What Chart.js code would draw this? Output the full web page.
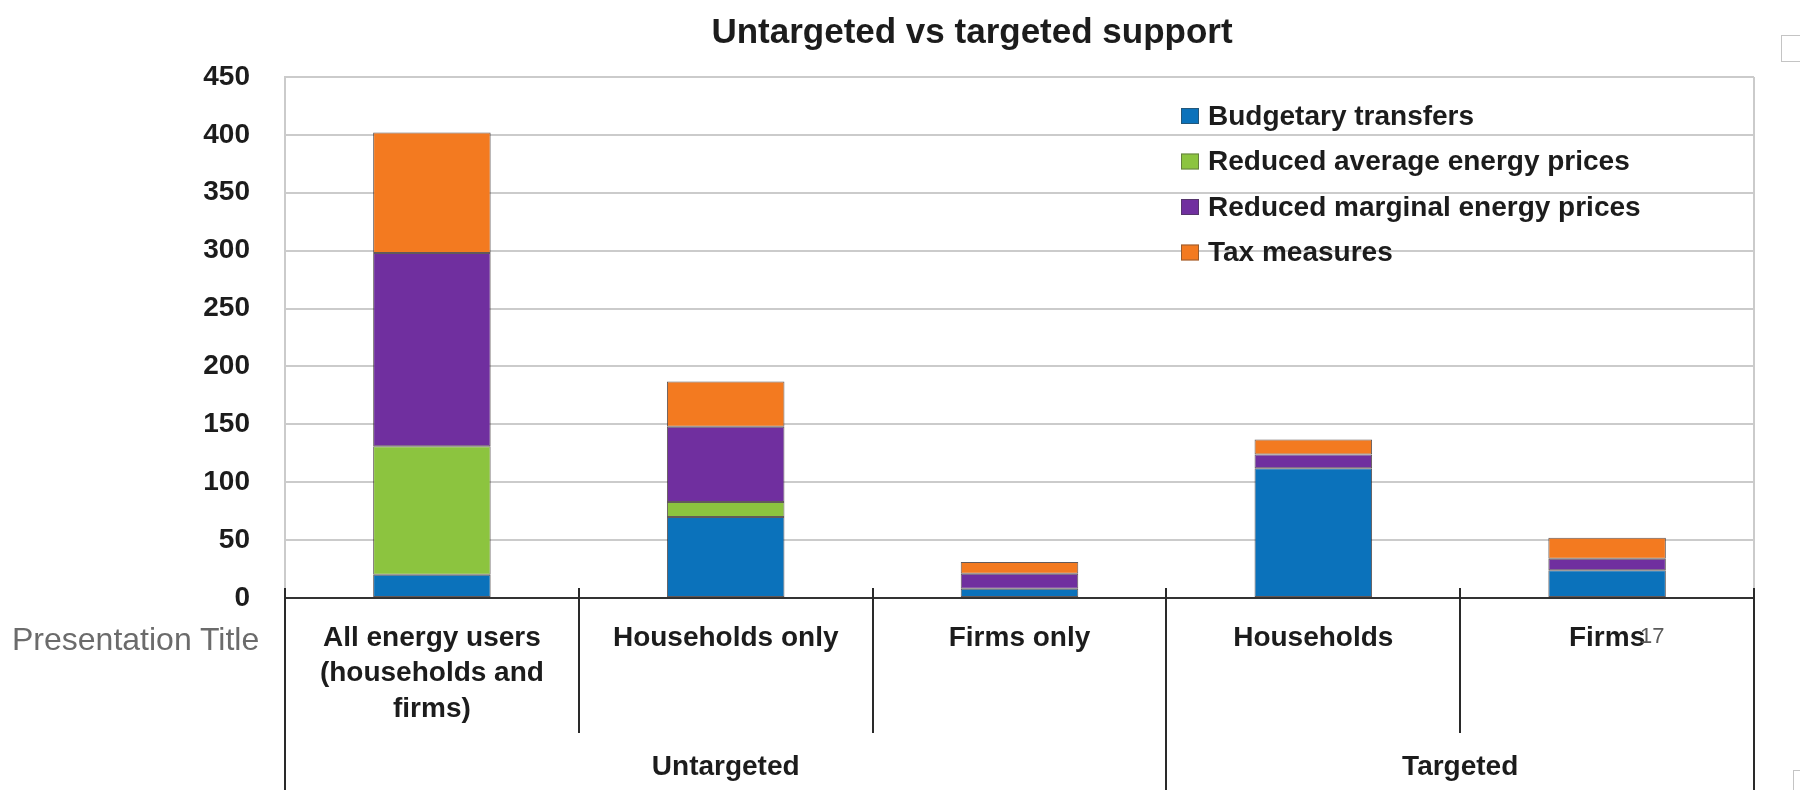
<!DOCTYPE html>
<html>
<head>
<meta charset="utf-8">
<script src="https://cdn.jsdelivr.net/npm/chart.js@4/dist/chart.umd.min.js"></script>
<style>
  html, body { margin: 0; padding: 0; background: #fff; }
  #wrap { position: relative; width: 1800px; height: 790px; }
  #slideTitle {
    position: absolute; left: 12px; top: 621px;
    font: 32px "Liberation Sans", Arial, sans-serif; color: #6b6b6b;
  }
  #pageNo {
    position: absolute; left: 1640px; top: 623px;
    font: 22px "Liberation Sans", Arial, sans-serif; color: #5a5a5a;
  }
  .frag { position: absolute; border: 1px solid #c4c4c4; }
</style>
</head>
<body>
<div id="wrap">
  <canvas id="chart1"></canvas>
  <div id="slideTitle">Presentation Title</div>
  <div id="pageNo">17</div>
  <div class="frag" style="left:1781px; top:35px; width:30px; height:25px;"></div>
  <div class="frag" style="left:1793px; top:770px; width:20px; height:30px;"></div>
</div>
<script>
// categories along the x axis (multi-line labels as arrays)
const categories = [
  ["All energy users", "(households and", "firms)"],
  "Households only",
  "Firms only",
  "Households",
  "Firms",
];
// second level of the x axis: label, first category index, number of categories
const groupLabels = ["Untargeted", "Targeted"];
const groupStart = [0, 3];
const groupSize = [3, 2];

// series values
const budgetaryTransfers = [20, 70, 8, 112, 24];
const reducedAveragePrices = [111, 13, 0, 0, 0];
const reducedMarginalPrices = [167, 65, 13, 12, 10];
const taxMeasures = [104, 39, 10, 13, 18];

const yTicks = [0, 50, 100, 150, 200, 250, 300, 350, 400, 450];

const chartTitle = "Untargeted vs targeted support";

const FONT = '"Liberation Sans", Arial, sans-serif';
const INK = "#1c1c1c";

// title, x axis dividers, group labels, legend and right-hand frame
const decorations = {
  id: "decorations",
  afterDraw(chart) {
    const ctx = chart.ctx;
    const area = chart.chartArea;
    const xs = chart.scales.x;
    const half = (xs.getPixelForValue(1) - xs.getPixelForValue(0)) / 2;
    const edge = (i) => xs.getPixelForValue(i) - half;
    const groupEdges = [];
    groupStart.forEach((s, g) => { groupEdges.push(s); groupEdges.push(s + groupSize[g]); });

    ctx.save();
    // title sits a little left of the plot centre
    ctx.fillStyle = INK;
    ctx.font = "bold 35px " + FONT;
    ctx.textAlign = "center";
    ctx.textBaseline = "alphabetic";
    ctx.fillText(chartTitle, 972, 43);

    // right frame line of the plot
    ctx.strokeStyle = "#cbcbcb";
    ctx.lineWidth = 2;
    ctx.beginPath();
    ctx.moveTo(area.right, area.top);
    ctx.lineTo(area.right, area.bottom);
    ctx.stroke();

    // vertical dividers under the axis
    ctx.strokeStyle = "#2a2a2a";
    ctx.lineWidth = 2;
    for (let i = 0; i <= categories.length; i++) {
      const x = Math.round(edge(i));
      const long = groupEdges.includes(i);
      ctx.beginPath();
      ctx.moveTo(x, area.bottom - 10);
      ctx.lineTo(x, long ? chart.height : area.bottom + 135);
      ctx.stroke();
    }

    // group labels
    ctx.fillStyle = INK;
    ctx.font = "bold 28px " + FONT;
    ctx.textAlign = "center";
    ctx.textBaseline = "middle";
    groupLabels.forEach((label, g) => {
      const x = (edge(groupStart[g]) + edge(groupStart[g] + groupSize[g])) / 2;
      ctx.fillText(label, x, area.bottom + 169);
    });

    // legend
    ctx.textAlign = "left";
    chart.data.datasets.forEach((ds, i) => {
      const y = area.top + 39 + i * 45.5;
      ctx.fillStyle = ds.backgroundColor;
      ctx.fillRect(1181, y - 8, 18, 16);
      ctx.strokeStyle = "rgba(60,60,60,0.5)";
      ctx.lineWidth = 1;
      ctx.strokeRect(1181.5, y - 7.5, 17, 15);
      ctx.fillStyle = INK;
      ctx.fillText(ds.label, 1208, y + 1);
    });
    ctx.restore();
  },
};

function series(label, data, color) {
  return {
    label: label,
    data: data,
    backgroundColor: color,
    borderColor: "rgba(45,35,35,0.75)",
    borderWidth: 1,
    borderSkipped: false,
    barPercentage: 0.4,
    categoryPercentage: 1.0,
  };
}

const ctx = document.getElementById("chart1").getContext("2d");
const myChart = new Chart(ctx, {
  type: "bar",
  data: {
    labels: categories,
    datasets: [
      series("Budgetary transfers", budgetaryTransfers, "#0b72bb"),
      series("Reduced average energy prices", reducedAveragePrices, "#8cc43f"),
      series("Reduced marginal energy prices", reducedMarginalPrices, "#702f9f"),
      series("Tax measures", taxMeasures, "#f37a20"),
    ],
  },
  options: {
    responsive: true,
    maintainAspectRatio: false,
    animation: false,
    layout: { padding: { left: 0, right: 46, top: 77, bottom: 0 } },
    plugins: {
      legend: { display: false },
      tooltip: { enabled: false },
    },
    scales: {
      x: {
        stacked: true,
        grid: { display: false },
        border: { display: false },
        ticks: {
          color: INK,
          font: { family: FONT, size: 28, weight: "bold", lineHeight: 1.28 },
          padding: 14,
          maxRotation: 0,
          autoSkip: false,
        },
        afterFit(scale) { scale.height = 192; },
      },
      y: {
        stacked: true,
        min: 0,
        max: 450,
        afterBuildTicks(scale) { scale.ticks = yTicks.map((v) => ({ value: v })); },
        grid: {
          drawTicks: false,
          color: (c) => (c.tick && c.tick.value === 0 ? "#333333" : "#cbcbcb"),
          lineWidth: 2,
        },
        border: { display: true, color: "#cbcbcb", width: 2 },
        ticks: {
          color: INK,
          font: { family: FONT, size: 28, weight: "bold" },
          padding: 35,
        },
        afterFit(scale) { scale.width = 285; },
      },
    },
  },
  plugins: [decorations],
});
</script>
</body>
</html>
